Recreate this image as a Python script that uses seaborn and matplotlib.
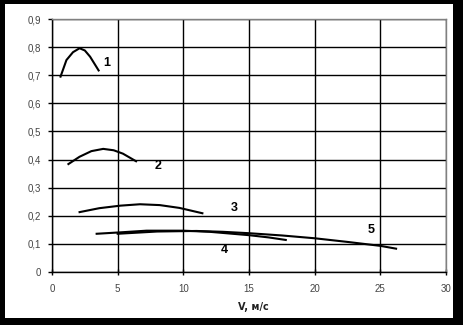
import matplotlib
matplotlib.use("Agg")
import matplotlib.pyplot as plt
from matplotlib.patches import Rectangle
from matplotlib.ticker import FuncFormatter, MultipleLocator
import seaborn as sns
import pandas as pd

# Data
c1_x = [0.65, 1.1, 1.6, 2.1, 2.5, 2.9, 3.55]
c1_y = [0.695, 0.754, 0.782, 0.796, 0.788, 0.766, 0.717]
c2_x = [1.25, 2.1, 3.0, 3.9, 4.7, 5.4, 6.4]
c2_y = [0.384, 0.410, 0.430, 0.438, 0.433, 0.421, 0.394]
c3_x = [2.1, 3.6, 5.2, 6.7, 8.2, 9.7, 11.45]
c3_y = [0.213, 0.227, 0.236, 0.241, 0.238, 0.228, 0.209]
c4_x = [3.4, 5.2, 7.2, 10.0, 12.0, 13.5, 15.0, 16.5, 17.8]
c4_y = [0.136, 0.141, 0.147, 0.147, 0.143, 0.137, 0.131, 0.123, 0.114]
c5_x = [5.0, 6.5, 8.0, 11.0, 13.0, 15.0, 17.5, 20.0, 22.5, 25.0, 26.2]
c5_y = [0.136, 0.140, 0.144, 0.146, 0.143, 0.138, 0.130, 0.120, 0.107, 0.093, 0.083]

curve_labels = ["1", "2", "3", "4", "5"]
label_x = [4.2, 8.1, 13.9, 13.1, 24.3]
label_y = [0.744, 0.376, 0.228, 0.078, 0.150]

x_label = "V, м/с"

plt.rcParams['font.family'] = ['Liberation Sans', 'DejaVu Sans']

fig = plt.figure(figsize=(4.64, 3.25), dpi=100, facecolor="black")
bg = Rectangle((5 / 464, 7 / 325), 448 / 464, 314 / 325,
               transform=fig.transFigure, facecolor="white",
               edgecolor="none", zorder=0)
fig.patches.append(bg)
ax = fig.add_axes([52 / 464, 53 / 325, 394 / 464, 253 / 325])
ax.set_zorder(2)
ax.set_facecolor("white")

curves = [(c1_x, c1_y), (c2_x, c2_y), (c3_x, c3_y), (c4_x, c4_y), (c5_x, c5_y)]
for name, (xs, ys) in zip(curve_labels, curves):
    df = pd.DataFrame({"V": xs, "val": ys})
    sns.lineplot(data=df, x="V", y="val", sort=False, color="black",
                 linewidth=1.5, ax=ax, zorder=3)

for t, lx, ly in zip(curve_labels, label_x, label_y):
    ax.text(lx, ly, t, fontsize=9, fontweight="bold", ha="center",
            va="center", color="black")

ax.set_xlim(0, 30)
ax.set_ylim(0, 0.9)
ax.xaxis.set_major_locator(MultipleLocator(5))
ax.yaxis.set_major_locator(MultipleLocator(0.1))


def yfmt(v, pos):
    if abs(v) < 1e-9:
        return "0"
    return ("%.1f" % v).replace(".", ",")


ax.yaxis.set_major_formatter(FuncFormatter(yfmt))
ax.grid(True, color="black", linewidth=1.0)
ax.set_axisbelow(True)

for s in ["left", "bottom"]:
    ax.spines[s].set_color("black")
    ax.spines[s].set_linewidth(1.0)
for s in ["top", "right"]:
    ax.spines[s].set_color("#808080")
    ax.spines[s].set_linewidth(1.0)

ax.tick_params(axis="y", direction="out", length=3, width=1, pad=5,
               labelsize=7, labelcolor="#444444", color="black")
ax.tick_params(axis="x", direction="inout", length=5, width=1, pad=6,
               labelsize=7, labelcolor="#444444", color="black")

ax.set_xlabel(x_label, fontsize=7, fontweight="bold", labelpad=6,
              color="#222222", family=["DejaVu Sans"])
ax.xaxis.set_label_coords(0.51, -0.12)
ax.set_ylabel("")

fig.savefig("out.png", dpi=100, facecolor="black")
